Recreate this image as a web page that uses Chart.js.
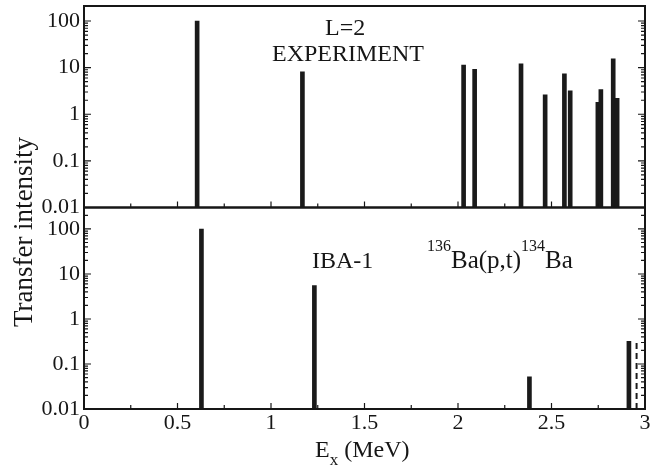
<!DOCTYPE html>
<html>
<head>
<meta charset="utf-8">
<title>Transfer intensity</title>
<script src="https://cdn.jsdelivr.net/npm/chart.js@4.4.1/dist/chart.umd.min.js"></script>
<style>
  html, body { margin: 0; padding: 0; background: #fff; }
  #wrap { position: relative; width: 672px; height: 467px; }
</style>
</head>
<body>
<div id="wrap"><canvas id="chart" width="672" height="467"></canvas></div>
<script>
// L=2 experiment levels (MeV) and transfer intensities
const expEnergy = [0.605, 1.168, 2.030, 2.089, 2.337, 2.466, 2.569, 2.600, 2.748, 2.764, 2.830, 2.851];
const expIntensity = [100, 8.1, 11.4, 9.2, 12, 2.6, 7.4, 3.2, 1.8, 3.4, 15.4, 2.2];

// IBA-1 calculation
const ibaEnergy = [0.628, 1.232, 2.382, 2.914];
const ibaIntensity = [100, 5.5, 0.052, 0.32];

// dashed level at the right edge
const dashEnergy = 2.955;
const dashIntensity = 0.36;

const yTickLabels = [0.01, 0.1, 1, 10, 100];
const xTickLabels = [0, 0.5, 1, 1.5, 2, 2.5, 3];

const FONT = "'Liberation Serif', 'Times New Roman', serif";
const INK = '#161616';
const BASE = 0.01;

function isDecade(v) {
    const l = Math.log10(v);
    return Math.abs(l - Math.round(l)) < 1e-6;
}

function decadeLabel(v) {
    if (!isDecade(v)) return '';
    const e = Math.round(Math.log10(v));
    const hit = yTickLabels.find(t => Math.abs(Math.log10(t) - e) < 1e-6);
    if (hit === undefined) return '';
    return e < 0 ? hit.toFixed(-e) : String(hit);
}

// frame, inward ticks and the texts
const panelPlugin = {
    id: 'panels',
    afterDatasetsDraw(chart) {
        const ctx = chart.ctx;
        const { left, right } = chart.chartArea;
        const xs = chart.scales.x;
        ctx.save();
        ctx.strokeStyle = INK;
        ['yTop', 'yBot'].forEach(id => {
            const s = chart.scales[id];
            ctx.lineWidth = 1.2;
            s.ticks.forEach(t => {
                const v = t.value;
                const e = Math.floor(Math.log10(v) + 1e-9);
                const m = v / Math.pow(10, e);
                if (Math.abs(m - Math.round(m)) > 1e-6) return;
                const y = s.getPixelForValue(v);
                if (y < s.top + 1 || y > s.bottom - 1) return;
                const len = Math.round(m) === 1 ? 7 : 4;
                ctx.beginPath();
                ctx.moveTo(left, y); ctx.lineTo(left + len, y);
                ctx.moveTo(right, y); ctx.lineTo(right - len, y);
                ctx.stroke();
            });
            xs.ticks.forEach(t => {
                const x = xs.getPixelForValue(t.value);
                if (x < left + 1 || x > right - 1) return;
                const major = Math.abs(t.value * 2 - Math.round(t.value * 2)) < 1e-6;
                ctx.beginPath();
                ctx.moveTo(x, s.bottom); ctx.lineTo(x, s.bottom - (major ? 6 : 4));
                ctx.stroke();
            });
            ctx.lineWidth = 2;
            ctx.strokeRect(left, s.top, right - left, s.bottom - s.top);
        });

        ctx.fillStyle = INK;
        ctx.textBaseline = 'alphabetic';
        ctx.textAlign = 'left';
        ctx.font = '24px ' + FONT;
        ctx.fillText('L=2', 325, 35);
        ctx.fillText('EXPERIMENT', 272, 61);
        ctx.fillText('IBA-1', 312, 268);

        // 136Ba(p,t)134Ba with superscripts
        let x = 427;
        const parts = [['136', true], ['Ba(p,t)', false], ['134', true], ['Ba', false]];
        parts.forEach(([txt, sup]) => {
            ctx.font = (sup ? '16px ' : '25px ') + FONT;
            ctx.fillText(txt, x, sup ? 251 : 268);
            x += ctx.measureText(txt).width;
        });

        // x axis title E_x (MeV)
        x = 315;
        ctx.font = '24px ' + FONT;
        ctx.fillText('E', x, 457);
        x += ctx.measureText('E').width;
        ctx.font = '17px ' + FONT;
        ctx.fillText('x', x, 465);
        x += ctx.measureText('x').width;
        ctx.font = '24px ' + FONT;
        ctx.fillText(' (MeV)', x, 457);

        // y axis title across both panels
        ctx.translate(32, 232);
        ctx.rotate(-Math.PI / 2);
        ctx.textAlign = 'center';
        ctx.font = '27px ' + FONT;
        ctx.fillText('Transfer intensity', 0, 0);
        ctx.restore();
    }
};

function logAxis(max, weight) {
    return {
        type: 'logarithmic',
        position: 'left',
        stack: 'panels',
        stackWeight: 1,
        weight: weight,
        min: BASE,
        max: max,
        border: { display: false },
        grid: { display: false, drawTicks: false },
        ticks: {
            autoSkip: false,
            padding: 4,
            color: INK,
            font: { family: FONT, size: 22 },
            callback: v => decadeLabel(v)
        },
        afterFit: s => {
            s.width = 84;
            s.paddingTop = 0;
            s.paddingBottom = 0;
        }
    };
}

new Chart(document.getElementById('chart'), {
    type: 'bar',
    data: {
        datasets: [
            {
                label: 'Experiment',
                yAxisID: 'yTop',
                data: expEnergy.map((e, i) => ({ x: e, y: [BASE, expIntensity[i]] })),
                backgroundColor: '#1a1a1a',
                barThickness: 4,
                grouped: false
            },
            {
                label: 'IBA-1',
                yAxisID: 'yBot',
                data: ibaEnergy.map((e, i) => ({ x: e, y: [BASE, ibaIntensity[i]] })),
                backgroundColor: '#1a1a1a',
                barThickness: 4,
                grouped: false
            },
            {
                type: 'line',
                label: 'IBA-1 (dashed)',
                yAxisID: 'yBot',
                data: [{ x: dashEnergy, y: BASE }, { x: dashEnergy, y: dashIntensity }],
                borderColor: '#1a1a1a',
                borderWidth: 2,
                borderDash: [6, 4],
                pointRadius: 0
            }
        ]
    },
    options: {
        responsive: false,
        animation: false,
        layout: { padding: { top: 6, right: 27, left: 0, bottom: 0 } },
        plugins: { legend: { display: false }, tooltip: { enabled: false } },
        scales: {
            x: {
                type: 'linear',
                offset: false,
                min: 0,
                max: 3,
                border: { display: false },
                grid: { display: false, drawTicks: false },
                ticks: {
                    stepSize: 0.25,
                    autoSkip: false,
                    maxRotation: 0,
                    padding: 1,
                    color: INK,
                    font: { family: FONT, size: 22 },
                    callback: v => xTickLabels.includes(v) ? String(v) : ''
                },
                afterFit: s => { s.height = 58; }
            },
            yTop: logAxis(210, 2),
            yBot: logAxis(300, 1)
        }
    },
    plugins: [panelPlugin]
});
</script>
</body>
</html>
